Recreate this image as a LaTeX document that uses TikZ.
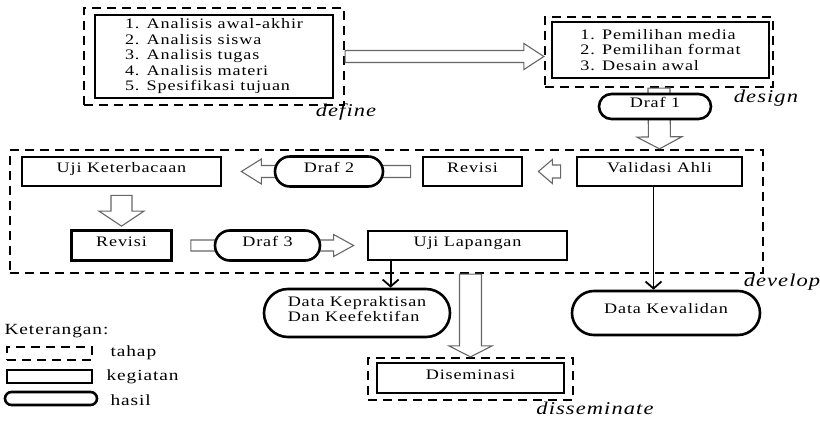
\documentclass[tikz,border=0pt]{standalone}
\usepackage{fontspec}
\setmainfont{Liberation Serif}[FakeStretch=1.25, LetterSpace=6]
\usetikzlibrary{arrows.meta,calc,shapes.misc}

\tikzset{
  tahap/.style={draw, line width=2.2pt, dash pattern=on 9pt off 6pt, inner sep=0pt},
  kegiatan/.style={draw, line width=2.8pt, inner sep=2pt, fill=white},
  hasil/.style={draw, rounded rectangle, line width=2.6pt, inner sep=2pt, fill=white},
  teksatas/.style={text height=9pt, text depth=7pt},
  namatahap/.style={font=\fontsize{18}{20}\selectfont\itshape},
  ketlbl/.style={anchor=west, font=\fontsize{15.5}{17}\selectfont},
  panah/.style={draw=black!60, fill=white, line width=1.1pt},
  garis/.style={line width=1.8pt, -{Straight Barb[length=7pt,width=16pt,line width=1.8pt]}},
}

% panah tebal berongga: awal, ujung, setengah batang, setengah kepala, panjang kepala
\newcommand{\panahbesar}[5]{%
  \path ($(#2)!#5!(#1)$) coordinate (pb);
  \filldraw[panah] ($(#1)!#3!90:(#2)$) -- ($(pb)!#3!-90:(#1)$) -- ($(pb)!#4!-90:(#1)$) -- (#2)
    -- ($(pb)!#4!90:(#1)$) -- ($(pb)!#3!90:(#1)$) -- ($(#1)!#3!-90:(#2)$) -- cycle;
}

\begin{document}
\begin{tikzpicture}[x=1pt, y=-1pt, every node/.style={font=\fontsize{14.5}{15.5}\selectfont}]
  \useasboundingbox (0,0) rectangle (820,422);

	%# TAHAP DEFINE
  \node[tahap, minimum width=260pt, minimum height=97pt] (stdefine) at (214,56.5) {};
  \node[kegiatan, minimum width=238pt, minimum height=83pt, align=left] (analisis) at (214,56.5)
    {1. Analisis awal-akhir\\2. Analisis siswa\\3. Analisis tugas\\4. Analisis materi\\5. Spesifikasi tujuan};
  \node[namatahap] (lbdefine) at (346,112) {define};

	%# TAHAP DESIGN
  \node[tahap, minimum width=228pt, minimum height=70pt] (stdesign) at (659,52) {};
  \node[kegiatan, minimum width=217pt, minimum height=56pt, align=left] (pemilihan) at (660.5,50)
    {1. Pemilihan media\\2. Pemilihan format\\3. Desain awal};
  \node[namatahap] (lbdesign) at (766,98) {design};

	%# TAHAP DEVELOP
  \node[tahap, minimum width=753pt, minimum height=123pt] (stdevelop) at (386.5,211.5) {};
  \node[namatahap] (lbdevelop) at (782,282) {develop};
  \node[kegiatan, teksatas, minimum width=165pt, minimum height=29pt] (validasi) at (659.5,171.5) {Validasi Ahli};
  \node[kegiatan, teksatas, minimum width=99pt, minimum height=29pt] (revisi1) at (472.5,171.5) {Revisi};
  \node[kegiatan, teksatas, minimum width=199pt, minimum height=29pt] (ujik) at (121.5,171.5) {Uji Keterbacaan};
  \node[kegiatan, teksatas, minimum width=100pt, minimum height=30pt] (revisi2) at (121.5,245.5) {Revisi};
  \node[kegiatan, teksatas, minimum width=199pt, minimum height=29pt] (ujil) at (467.5,245.5) {Uji Lapangan};

	%# TAHAP DISSEMINATE
  \node[tahap, minimum width=205pt, minimum height=42pt] (stdissem) at (470.5,379) {};
  \node[kegiatan, teksatas, minimum width=187pt, minimum height=30pt] (diseminasi) at (470.5,378) {Diseminasi};
  \node[namatahap] (lbdissem) at (595,408) {disseminate};

	%# PANAH ANTAR TAHAP
  \coordinate (a1) at (stdefine.east -| stdesign.west);
  \panahbesar{stdefine.east}{a1}{6pt}{13pt}{20pt}
  \coordinate (a2) at (validasi.north |- stdevelop.north);
  \panahbesar{stdesign.south}{a2}{11pt}{22.5pt}{12pt}
  \panahbesar{$(validasi.west)+(-15,0)$}{$(revisi1.east)+(15,0)$}{6.5pt}{12pt}{14pt}
  \panahbesar{$(revisi1.west)+(-11,0)$}{$(ujik.east)+(19,0)$}{6pt}{12.5pt}{20pt}
  \panahbesar{$(ujik.south)+(0,8)$}{$(revisi2.north)+(0,-3)$}{10.5pt}{22.5pt}{15pt}
  \panahbesar{$(revisi2.east)+(18,0)$}{$(ujil.west)+(-13,0)$}{5.5pt}{11pt}{20pt}
  \coordinate (a7) at (stdevelop.south -| stdissem.north);
  \panahbesar{a7}{stdissem.north}{11pt}{21.5pt}{11pt}

	%# HASIL
  \node[hasil, teksatas, minimum width=116pt, minimum height=25pt] (draf1) at (655,106.5) {Draf 1};
  \node[hasil, teksatas, minimum width=112pt, minimum height=30pt] (draf2) at (329,171.5) {Draf 2};
  \node[hasil, teksatas, minimum width=109pt, minimum height=30pt] (draf3) at (267.5,245.5) {Draf 3};
  \node[hasil, minimum width=190pt, minimum height=48pt, align=left, text depth=8pt] (datapraktis) at (357,313)
    {Data Kepraktisan\\Dan Keefektifan};
  \node[hasil, teksatas, minimum width=192pt, minimum height=44pt] (datavalid) at (666,313) {Data Kevalidan};

	%# GARIS KE HASIL
  \coordinate (g1) at ($(ujil.south west)+(24,0)$);
  \draw[garis] (g1) -- (g1 |- datapraktis.north);
  \coordinate (g2) at ($(validasi.south)+(-6,0)$);
  \draw[garis] (g2) -- (g2 |- datavalid.north);

	%# KETERANGAN
  \node[ketlbl] (ket) at (1,331) {Keterangan:};
  \node[tahap, minimum width=85pt, minimum height=13pt] (kettahap) at (49.5,353.5) {};
  \node[ketlbl] (lbtahap) at (107,353) {tahap};
  \node[kegiatan, minimum width=85pt, minimum height=13pt, inner sep=0pt] (ketkeg) at (49.5,376.5) {};
  \node[ketlbl] (lbkeg) at (103,377) {kegiatan};
  \node[hasil, minimum width=92pt, minimum height=13pt, inner sep=0pt] (kethasil) at (51,398.5) {};
  \node[ketlbl] (lbhasil) at (107,400) {hasil};
\end{tikzpicture}
\end{document}
